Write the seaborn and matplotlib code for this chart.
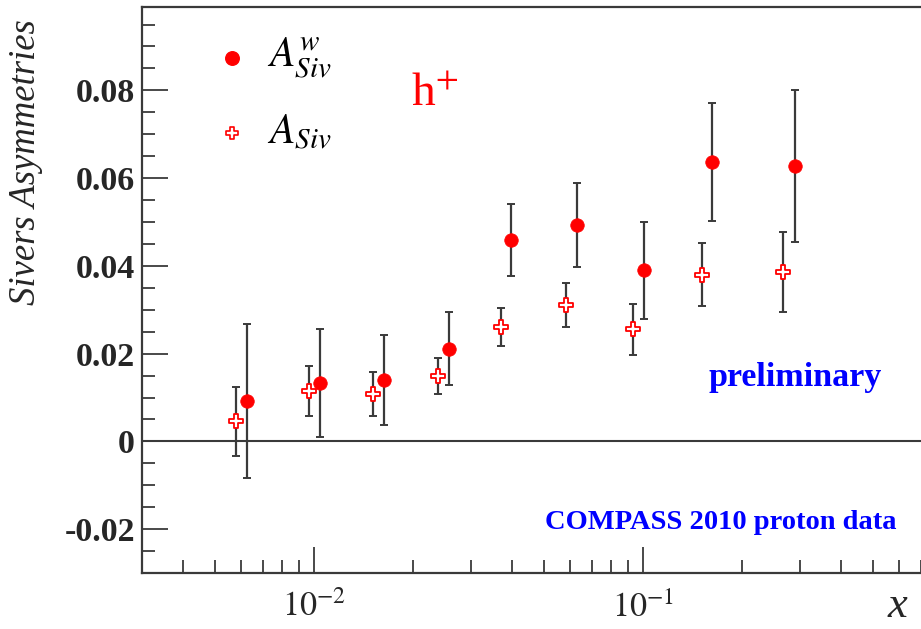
import numpy as np
import pandas as pd
import matplotlib
matplotlib.use("Agg")
import matplotlib.pyplot as plt
import seaborn as sns
from matplotlib.ticker import FixedLocator, FixedFormatter, NullFormatter

# ---- data ----
x_w = [0.00626, 0.01045, 0.0163, 0.0257, 0.0398, 0.0628, 0.101, 0.1626, 0.289]
y_w = [0.0092, 0.0133, 0.0140, 0.0211, 0.0459, 0.0493, 0.0390, 0.0637, 0.0627]
e_w = [0.0175, 0.0122, 0.0102, 0.0083, 0.0083, 0.0095, 0.0110, 0.0135, 0.0173]

x_u = [0.00581, 0.00968, 0.0151, 0.0238, 0.0369, 0.0582, 0.0935, 0.1507, 0.2666]
y_u = [0.0046, 0.0114, 0.0108, 0.0149, 0.0261, 0.0311, 0.0255, 0.0380, 0.0386]
e_u = [0.0079, 0.0057, 0.0050, 0.0042, 0.0044, 0.0050, 0.0058, 0.0072, 0.0091]

y_ticks = [-0.02, 0.0, 0.02, 0.04, 0.06, 0.08]
y_ticklabels = ["-0.02", "0", "0.02", "0.04", "0.06", "0.08"]
x_ticks = [0.01, 0.1]
x_ticklabels = [r"$10^{-2}$", r"$10^{-1}$"]

df_w = pd.DataFrame({"x": x_w, "y": y_w, "e": e_w})
df_u = pd.DataFrame({"x": x_u, "y": y_u, "e": e_u})

sns.set_theme(style="white")
plt.rcParams["font.family"] = ["Liberation Serif", "DejaVu Serif"]
plt.rcParams["mathtext.fontset"] = "stix"

fig = plt.figure(figsize=(9.21, 6.29), dpi=100)
ax = fig.add_axes([0.1542, 0.0890, 0.8458, 0.8999])

ax.set_xscale("log")
ax.set_xlim(0.003, 0.7)
ax.set_ylim(-0.03, 0.099)

err_col = "#3a3a3a"
blue = "#0000ff"
ax.axhline(0, color=err_col, lw=1.5, zorder=1)

ax.errorbar(df_u["x"], df_u["y"], yerr=df_u["e"], fmt="none", ecolor=err_col,
            elinewidth=1.6, capsize=3, capthick=1.4, zorder=2)
ax.errorbar(df_w["x"], df_w["y"], yerr=df_w["e"], fmt="none", ecolor=err_col,
            elinewidth=1.6, capsize=3, capthick=1.4, zorder=2)

sns.scatterplot(data=df_w, x="x", y="y", ax=ax, marker="o", s=95,
                color="#ff0000", edgecolor="#ff0000", linewidth=0.5, zorder=3, legend=False)
sns.scatterplot(data=df_u, x="x", y="y", ax=ax, marker="P", s=90,
                facecolor="white", edgecolor="#ff0000", linewidth=1.3, zorder=3, legend=False)

# legend entries (drawn manually like ROOT)
ax.scatter([0.00565], [0.0873], marker="o", s=95, color="#ff0000", zorder=3)
ax.scatter([0.00565], [0.0703], marker="P", s=75, facecolor="white", edgecolor="#ff0000",
           linewidth=1.2, zorder=3)
ax.text(0.0072, 0.0873, r"$A^{w}_{Siv}$", fontsize=30, va="center", ha="left", color="black")
ax.text(0.0072, 0.0703, r"$A_{Siv}$", fontsize=30, va="center", ha="left", color="black")
ax.text(0.0197, 0.0790, r"h$^{+}$", fontsize=34, color="#ff0000", va="center", ha="left",
        fontfamily="Liberation Serif")

ax.text(0.838, 0.346, "preliminary", fontsize=24.5, fontweight="bold", color=blue,
        ha="center", va="center", transform=ax.transAxes)
ax.text(0.743, 0.090, "COMPASS 2010 proton data", fontsize=20.5, fontweight="bold",
        color=blue, ha="center", va="center", transform=ax.transAxes)

# axes styling
ax.yaxis.set_major_locator(FixedLocator(y_ticks))
ax.yaxis.set_major_formatter(FixedFormatter(y_ticklabels))
ax.yaxis.set_minor_locator(FixedLocator(np.arange(-0.03, 0.0991, 0.005)))
ax.xaxis.set_major_locator(FixedLocator(x_ticks))
ax.xaxis.set_major_formatter(FixedFormatter(x_ticklabels))
minors = [m * d for d in (0.001, 0.01, 0.1) for m in range(2, 10)]
ax.xaxis.set_minor_locator(FixedLocator(minors))
ax.xaxis.set_minor_formatter(NullFormatter())

ax.tick_params(axis="both", which="major", direction="in", length=18.5, width=1.3,
               color=err_col, labelsize=24.5, left=True, bottom=True)
ax.tick_params(axis="both", which="minor", direction="in", length=9.2, width=1.3,
               color=err_col, left=True, bottom=True)
ax.tick_params(axis="y", which="major", pad=5)
ax.tick_params(axis="x", which="major", pad=13)
for lab in ax.get_yticklabels():
    lab.set_fontweight("bold")

for side in ("left", "bottom", "top"):
    ax.spines[side].set_visible(True)
    ax.spines[side].set_color(err_col)
    ax.spines[side].set_linewidth(1.6)
ax.spines["right"].set_visible(False)

ax.set_xlabel("")
ax.set_ylabel("")
fig.text(0.028, 0.97, "Sivers Asymmetries", rotation=90, fontsize=26.5, style="italic",
         ha="center", va="top")
fig.text(0.974, 0.005, "x", fontsize=32, style="italic", ha="center", va="bottom")

fig.savefig("out.png", dpi=100)
